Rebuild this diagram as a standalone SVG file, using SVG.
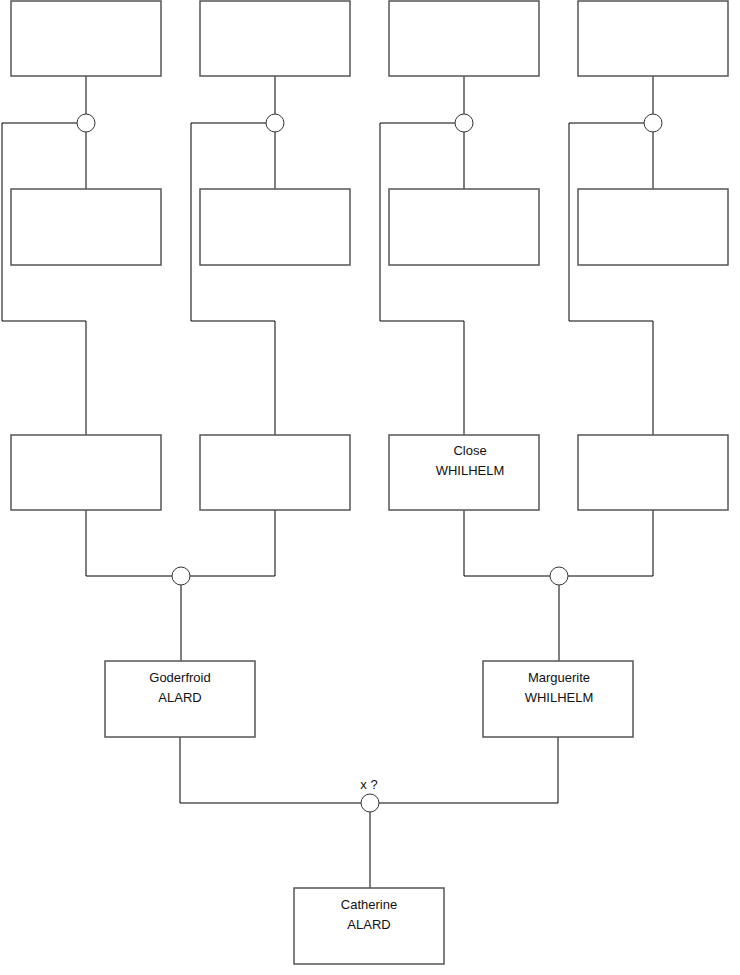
<svg xmlns="http://www.w3.org/2000/svg" width="740" height="975" viewBox="0 0 740 975">
<style>
.box{fill:#fff;stroke:#555;stroke-width:1.5}
.ln{fill:none;stroke:#000;stroke-width:1}
.c{fill:#fff;stroke:#333;stroke-width:1}
text{font-family:"Liberation Sans",Arial,sans-serif;font-size:13px;fill:#111;text-anchor:middle}
</style>
<rect width="740" height="975" fill="#fff"/>
<g id="connectors">
<path class="ln" d="M86 76V114M86 132V189M77 123H2V321H86V435"/>
<path class="ln" d="M275 76V114M275 132V189M266 123H191V321H275V435"/>
<path class="ln" d="M464 76V114M464 132V189M455 123H380V321H464V435"/>
<path class="ln" d="M653 76V114M653 132V189M644 123H569V321H653V435"/>
<path class="ln" d="M86 510V576H172M190 576H275V510M181 585V661"/>
<path class="ln" d="M464 510V576H550M568 576H653V510M559 585V661"/>
<path class="ln" d="M180 737V803H361M379 803H558V737M370 812V888"/>
</g>
<g id="unions">
<circle class="c" cx="86" cy="123" r="9"/>
<circle class="c" cx="275" cy="123" r="9"/>
<circle class="c" cx="464" cy="123" r="9"/>
<circle class="c" cx="653" cy="123" r="9"/>
<circle class="c" cx="181" cy="576" r="9"/>
<circle class="c" cx="559" cy="576" r="9"/>
<g id="union-bottom"><circle class="c" cx="370" cy="803" r="9"/><text x="369" y="789">x ?</text></g>
</g>
<g id="n1"><rect class="box" x="11" y="1" width="150" height="75"/></g>
<g id="n2"><rect class="box" x="200" y="1" width="150" height="75"/></g>
<g id="n3"><rect class="box" x="389" y="1" width="150" height="75"/></g>
<g id="n4"><rect class="box" x="578" y="1" width="150" height="75"/></g>
<g id="n5"><rect class="box" x="11" y="189" width="150" height="76"/></g>
<g id="n6"><rect class="box" x="200" y="189" width="150" height="76"/></g>
<g id="n7"><rect class="box" x="389" y="189" width="150" height="76"/></g>
<g id="n8"><rect class="box" x="578" y="189" width="150" height="76"/></g>
<g id="n9"><rect class="box" x="11" y="435" width="150" height="75"/></g>
<g id="n10"><rect class="box" x="200" y="435" width="150" height="75"/></g>
<g id="n11"><rect class="box" x="389" y="435" width="150" height="75"/><text x="470" y="455">Close</text><text x="470" y="475">WHILHELM</text></g>
<g id="n12"><rect class="box" x="578" y="435" width="150" height="75"/></g>
<g id="n13"><rect class="box" x="105" y="661" width="150" height="76"/><text x="180" y="682">Goderfroid</text><text x="180" y="702">ALARD</text></g>
<g id="n14"><rect class="box" x="483" y="661" width="150" height="76"/><text x="559" y="682">Marguerite</text><text x="559" y="702">WHILHELM</text></g>
<g id="n15"><rect class="box" x="294" y="888" width="150" height="76"/><text x="369" y="909">Catherine</text><text x="369" y="929">ALARD</text></g>
</svg>
